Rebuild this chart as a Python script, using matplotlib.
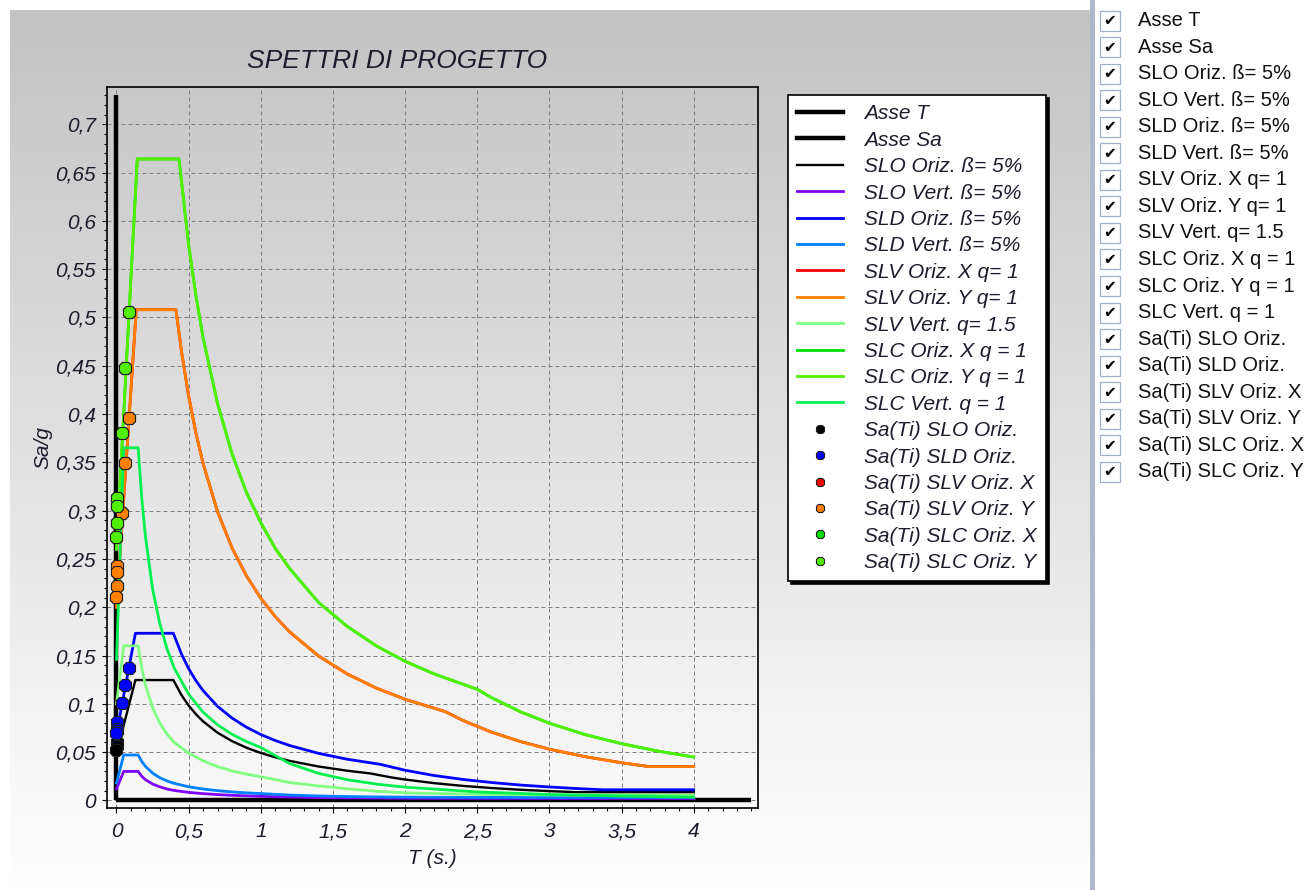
import numpy as np
import matplotlib
matplotlib.use("Agg")
import matplotlib.pyplot as plt
from matplotlib.lines import Line2D
from matplotlib.patches import Rectangle
from matplotlib.colors import LinearSegmentedColormap
from matplotlib.ticker import MultipleLocator

plt.rcParams['font.family'] = ['Liberation Sans', 'DejaVu Sans']

# ---------------- data ----------------
asse_T_x = [0.0, 4.4]
asse_T_y = [0.0, 0.0]
asse_Sa_x = [0.0, 0.0]
asse_Sa_y = [0.0, 0.73]

slo_oriz_T = [0, 0.131, 0.394, 0.45, 0.5, 0.55, 0.6, 0.7, 0.8, 0.9, 1.0, 1.1, 1.2, 1.4, 1.6,
              1.76, 1.9, 2.0, 2.2, 2.4, 2.6, 2.8, 3.0, 3.19, 3.5, 4.0]
slo_oriz_Sa = [0.049, 0.1246, 0.1246, 0.1091, 0.0982, 0.0893, 0.0818, 0.0701, 0.0614, 0.0546,
               0.0491, 0.0446, 0.0409, 0.0351, 0.0307, 0.0279, 0.0239, 0.0216, 0.0179, 0.0150,
               0.0128, 0.0110, 0.0096, 0.0085, 0.0085, 0.0085]

sld_oriz_T = [0, 0.131, 0.394, 0.45, 0.5, 0.55, 0.6, 0.7, 0.8, 0.9, 1.0, 1.1, 1.2, 1.4, 1.6,
              1.83, 2.0, 2.2, 2.4, 2.6, 2.8, 3.0, 3.2, 3.37, 3.7, 4.0]
sld_oriz_Sa = [0.069, 0.173, 0.173, 0.1516, 0.1364, 0.1240, 0.1137, 0.0974, 0.0853, 0.0758,
               0.0682, 0.0620, 0.0568, 0.0487, 0.0426, 0.0373, 0.0312, 0.0258, 0.0217, 0.0185,
               0.0159, 0.0139, 0.0122, 0.0110, 0.0110, 0.0110]

slv_oriz_T = [0, 0.137, 0.412, 0.45, 0.5, 0.55, 0.6, 0.7, 0.8, 0.9, 1.0, 1.1, 1.2, 1.4, 1.6,
              1.8, 2.0, 2.28, 2.4, 2.6, 2.8, 3.0, 3.25, 3.5, 3.69, 4.0]
slv_oriz_Sa = [0.20, 0.508, 0.508, 0.4651, 0.4186, 0.3805, 0.3488, 0.2990, 0.2616, 0.2326,
               0.2093, 0.1903, 0.1744, 0.1495, 0.1308, 0.1163, 0.1047, 0.0918, 0.0828, 0.0706,
               0.0609, 0.0530, 0.0452, 0.0390, 0.0350, 0.0350]

slc_oriz_T = [0, 0.144, 0.433, 0.5, 0.55, 0.6, 0.7, 0.8, 0.9, 1.0, 1.1, 1.2, 1.4, 1.6, 1.8,
              2.0, 2.2, 2.5, 2.6, 2.8, 3.0, 3.25, 3.5, 3.75, 4.0]
slc_oriz_Sa = [0.26, 0.664, 0.664, 0.575, 0.523, 0.479, 0.411, 0.359, 0.319, 0.2875, 0.261,
               0.240, 0.205, 0.180, 0.160, 0.144, 0.131, 0.115, 0.1063, 0.0917, 0.0799,
               0.0680, 0.0587, 0.0511, 0.0449]

vert_T = [0, 0.05, 0.15, 0.175, 0.2, 0.25, 0.3, 0.35, 0.4, 0.5, 0.6, 0.7, 0.8, 0.9, 1.0, 1.2,
          1.4, 1.6, 1.8, 2.0, 2.5, 3.0, 3.5, 4.0]
slo_vert_Sa = [0.012, 0.030, 0.030, 0.0250, 0.0215, 0.0170, 0.0140, 0.0118, 0.0103, 0.0083,
               0.0070, 0.0060, 0.0053, 0.0047, 0.0042, 0.0034, 0.0029, 0.0026, 0.0024, 0.0022,
               0.0021, 0.0020, 0.0020, 0.0020]
sld_vert_Sa = [0.018, 0.047, 0.047, 0.0403, 0.0353, 0.0282, 0.0235, 0.0201, 0.0176, 0.0141,
               0.0118, 0.0101, 0.0088, 0.0078, 0.0071, 0.0055, 0.0046, 0.0040, 0.0036, 0.0034,
               0.0031, 0.0030, 0.0030, 0.0030]
slv_vert_Sa = [0.10, 0.16, 0.16, 0.137, 0.120, 0.096, 0.080, 0.0686, 0.060, 0.049, 0.041,
               0.0350, 0.0305, 0.0272, 0.0245, 0.0185, 0.0150, 0.0120, 0.0095, 0.0078, 0.0063,
               0.0057, 0.0055, 0.0054]
slc_vert_Sa = [0.146, 0.365, 0.365, 0.313, 0.274, 0.219, 0.183, 0.157, 0.137, 0.110, 0.0913,
               0.0783, 0.0685, 0.0609, 0.0548, 0.0381, 0.0280, 0.0214, 0.0169, 0.0137, 0.0088,
               0.0061, 0.0045, 0.0034]

# Sa(Ti) points
ti_slo = [0.004, 0.002, 0.0]
sa_slo = [0.060, 0.056, 0.052]
ti_modes = [0.089, 0.061, 0.040, 0.006, 0.002, 0.001, 0.0]
sa_sld = [0.137, 0.1195, 0.101, 0.081, 0.0735, 0.0715, 0.0695]
sa_slv = [0.3955, 0.3496, 0.297, 0.2426, 0.2368, 0.222, 0.211]
sa_slc = [0.506, 0.448, 0.380, 0.3127, 0.3048, 0.2868, 0.273]

x_ticks = [0, 0.5, 1, 1.5, 2, 2.5, 3, 3.5, 4]
x_labels = ['0', '0,5', '1', '1,5', '2', '2,5', '3', '3,5', '4']
y_ticks = [0, 0.05, 0.1, 0.15, 0.2, 0.25, 0.3, 0.35, 0.4, 0.45, 0.5, 0.55, 0.6, 0.65, 0.7]
y_labels = ['0', '0,05', '0,1', '0,15', '0,2', '0,25', '0,3', '0,35', '0,4', '0,45', '0,5',
            '0,55', '0,6', '0,65', '0,7']

series_labels = ['Asse T', 'Asse Sa', 'SLO Oriz. ß= 5%', 'SLO Vert. ß= 5%', 'SLD Oriz. ß= 5%',
                 'SLD Vert. ß= 5%', 'SLV Oriz. X q= 1', 'SLV Oriz. Y q= 1', 'SLV Vert. q= 1.5',
                 'SLC Oriz. X q = 1', 'SLC Oriz. Y q = 1', 'SLC Vert. q = 1',
                 'Sa(Ti) SLO Oriz.', 'Sa(Ti) SLD Oriz.', 'Sa(Ti) SLV Oriz. X',
                 'Sa(Ti) SLV Oriz. Y', 'Sa(Ti) SLC Oriz. X', 'Sa(Ti) SLC Oriz. Y']

# ---------------- styles ----------------
C_SLO_V = '#8000FF'
C_SLD_O = '#0000FF'
C_SLD_V = '#0080FF'
C_SLV_X = '#FF0000'
C_SLV_Y = '#FF8000'
C_SLV_V = '#80FF80'
C_SLC_X = '#00E000'
C_SLC_Y = '#50F000'
C_SLC_V = '#00F050'
TXT = '#1C1C2C'

W, H = 1315, 890
fig = plt.figure(figsize=(W / 100, H / 100), dpi=100)
fig.patch.set_facecolor('white')

# gradient panel
bg = fig.add_axes([10 / W, 0, 1080 / W, 880 / H], zorder=-10)
grad = np.linspace(0, 1, 256).reshape(-1, 1)
bg.imshow(grad, aspect='auto', extent=[0, 1, 0, 1], origin='upper',
          cmap=LinearSegmentedColormap.from_list('g', ['#C3C3C3', '#FFFFFF']))
bg.set_axis_off()

# separator bar to the right panel
fig.patches.append(Rectangle((1090 / W, 0), 5 / W, 1, transform=fig.transFigure,
                             facecolor='#AEB8CA', edgecolor='none', zorder=-5))

# main axes
L, R, T_, B = 106.7, 758.3, 87.3, 807.5
ax = fig.add_axes([L / W, 1 - B / H, (R - L) / W, (B - T_) / H])
ax.set_facecolor('none')
ax.set_xlim(-0.0679, 4.4477)
ax.set_ylim(-0.00735, 0.7382)

ax.set_xticks(x_ticks)
ax.set_xticklabels(x_labels, fontstyle='italic', fontsize=15, color=TXT)
ax.set_yticks(y_ticks)
ax.set_yticklabels(y_labels, fontstyle='italic', fontsize=15, color=TXT)
ax.xaxis.set_minor_locator(MultipleLocator(0.1))
ax.yaxis.set_minor_locator(MultipleLocator(0.01))
ax.tick_params(which='major', direction='out', length=3.6, width=0.8, color='black', pad=4)
ax.tick_params(axis='x', which='major', pad=7)
ax.tick_params(which='minor', direction='out', length=2.2, width=0.8, color='black')
ax.grid(True, which='major', color='#808080', linestyle=(0, (4, 3)), linewidth=0.72)
ax.set_axisbelow(True)
for s in ax.spines.values():
    s.set_color('black')
    s.set_linewidth(1.2)

lw = 2.0
ax.plot(asse_T_x, asse_T_y, color='black', lw=3.2, solid_capstyle='butt', zorder=2)
ax.plot(asse_Sa_x, asse_Sa_y, color='black', lw=3.2, solid_capstyle='butt', zorder=2)
ax.plot(slo_oriz_T, slo_oriz_Sa, color='black', lw=1.7, zorder=3)
ax.plot(vert_T, slo_vert_Sa, color=C_SLO_V, lw=lw, zorder=3)
ax.plot(sld_oriz_T, sld_oriz_Sa, color=C_SLD_O, lw=lw, zorder=3)
ax.plot(vert_T, sld_vert_Sa, color=C_SLD_V, lw=lw, zorder=3)
ax.plot(slv_oriz_T, slv_oriz_Sa, color=C_SLV_X, lw=lw, zorder=3)
ax.plot(slv_oriz_T, slv_oriz_Sa, color=C_SLV_Y, lw=lw, zorder=3)
ax.plot(vert_T, slv_vert_Sa, color=C_SLV_V, lw=lw, zorder=3)
ax.plot(slc_oriz_T, slc_oriz_Sa, color=C_SLC_X, lw=lw, zorder=3)
ax.plot(slc_oriz_T, slc_oriz_Sa, color=C_SLC_Y, lw=lw, zorder=3)
ax.plot(vert_T, slc_vert_Sa, color=C_SLC_V, lw=lw, zorder=3)

mk = dict(ls='none', marker='8', ms=9.5, mec='#202020', mew=0.8, zorder=4)
ax.plot(ti_slo, sa_slo, mfc='black', **mk)
ax.plot(ti_modes, sa_sld, mfc=C_SLD_O, **mk)
ax.plot(ti_modes, sa_slv, mfc=C_SLV_X, **mk)
ax.plot(ti_modes, sa_slv, mfc=C_SLV_Y, **mk)
ax.plot(ti_modes, sa_slc, mfc=C_SLC_X, **mk)
ax.plot(ti_modes, sa_slc, mfc=C_SLC_Y, **mk)

# titles / labels
fig.text(397 / W, 1 - 61 / H, 'SPETTRI DI PROGETTO', ha='center', va='center',
         fontsize=19, fontstyle='italic', color=TXT)
ax.set_xlabel('T (s.)', fontsize=15, fontstyle='italic', color=TXT)
ax.xaxis.set_label_coords(0.5, -0.058)
ax.set_ylabel('Sa/g', fontsize=15, fontstyle='italic', color=TXT)
ax.yaxis.set_label_coords(-0.083, 0.5)

# legend
def mh(c):
    return Line2D([], [], ls='none', marker='8', ms=6.5, mfc=c, mec='#202020', mew=0.8)

handles = [Line2D([], [], color='black', lw=3.2), Line2D([], [], color='black', lw=3.2),
           Line2D([], [], color='black', lw=1.7), Line2D([], [], color=C_SLO_V, lw=lw),
           Line2D([], [], color=C_SLD_O, lw=lw), Line2D([], [], color=C_SLD_V, lw=lw),
           Line2D([], [], color=C_SLV_X, lw=lw), Line2D([], [], color=C_SLV_Y, lw=lw),
           Line2D([], [], color=C_SLV_V, lw=lw), Line2D([], [], color=C_SLC_X, lw=lw),
           Line2D([], [], color=C_SLC_Y, lw=lw), Line2D([], [], color=C_SLC_V, lw=lw),
           mh('black'), mh(C_SLD_O), mh(C_SLV_X), mh(C_SLV_Y), mh(C_SLC_X), mh(C_SLC_Y)]
leg = ax.legend(handles, series_labels, loc='upper left', bbox_to_anchor=(788 / W, 1 - 95 / H),
                bbox_transform=fig.transFigure, borderaxespad=0, fancybox=False,
                framealpha=1, edgecolor='black', facecolor='white',
                prop={'size': 15, 'style': 'italic'}, labelspacing=0.355, handlelength=2.2,
                handletextpad=1.0, borderpad=0.45,
                shadow={'facecolor': 'black', 'edgecolor': 'black', 'alpha': 1})
leg.get_frame().set_linewidth(1.2)
for t in leg.get_texts():
    t.set_color(TXT)

# right checklist panel
y0, dy = 20.7, 26.53
for i, lab in enumerate(series_labels):
    yc = y0 + i * dy
    fig.patches.append(Rectangle(((1100) / W, 1 - (yc + 10) / H), 20 / W, 20 / H,
                                 transform=fig.transFigure, facecolor='white',
                                 edgecolor='#9FB0C8', lw=0.9))
    fig.text(1110 / W, 1 - yc / H, '\u2714', family='DejaVu Sans', fontsize=11,
             ha='center', va='center', color='black')
    fig.text(1138 / W, 1 - yc / H, lab, fontsize=14.5, ha='left', va='center', color='#111111')

fig.savefig('out.png', dpi=100)
